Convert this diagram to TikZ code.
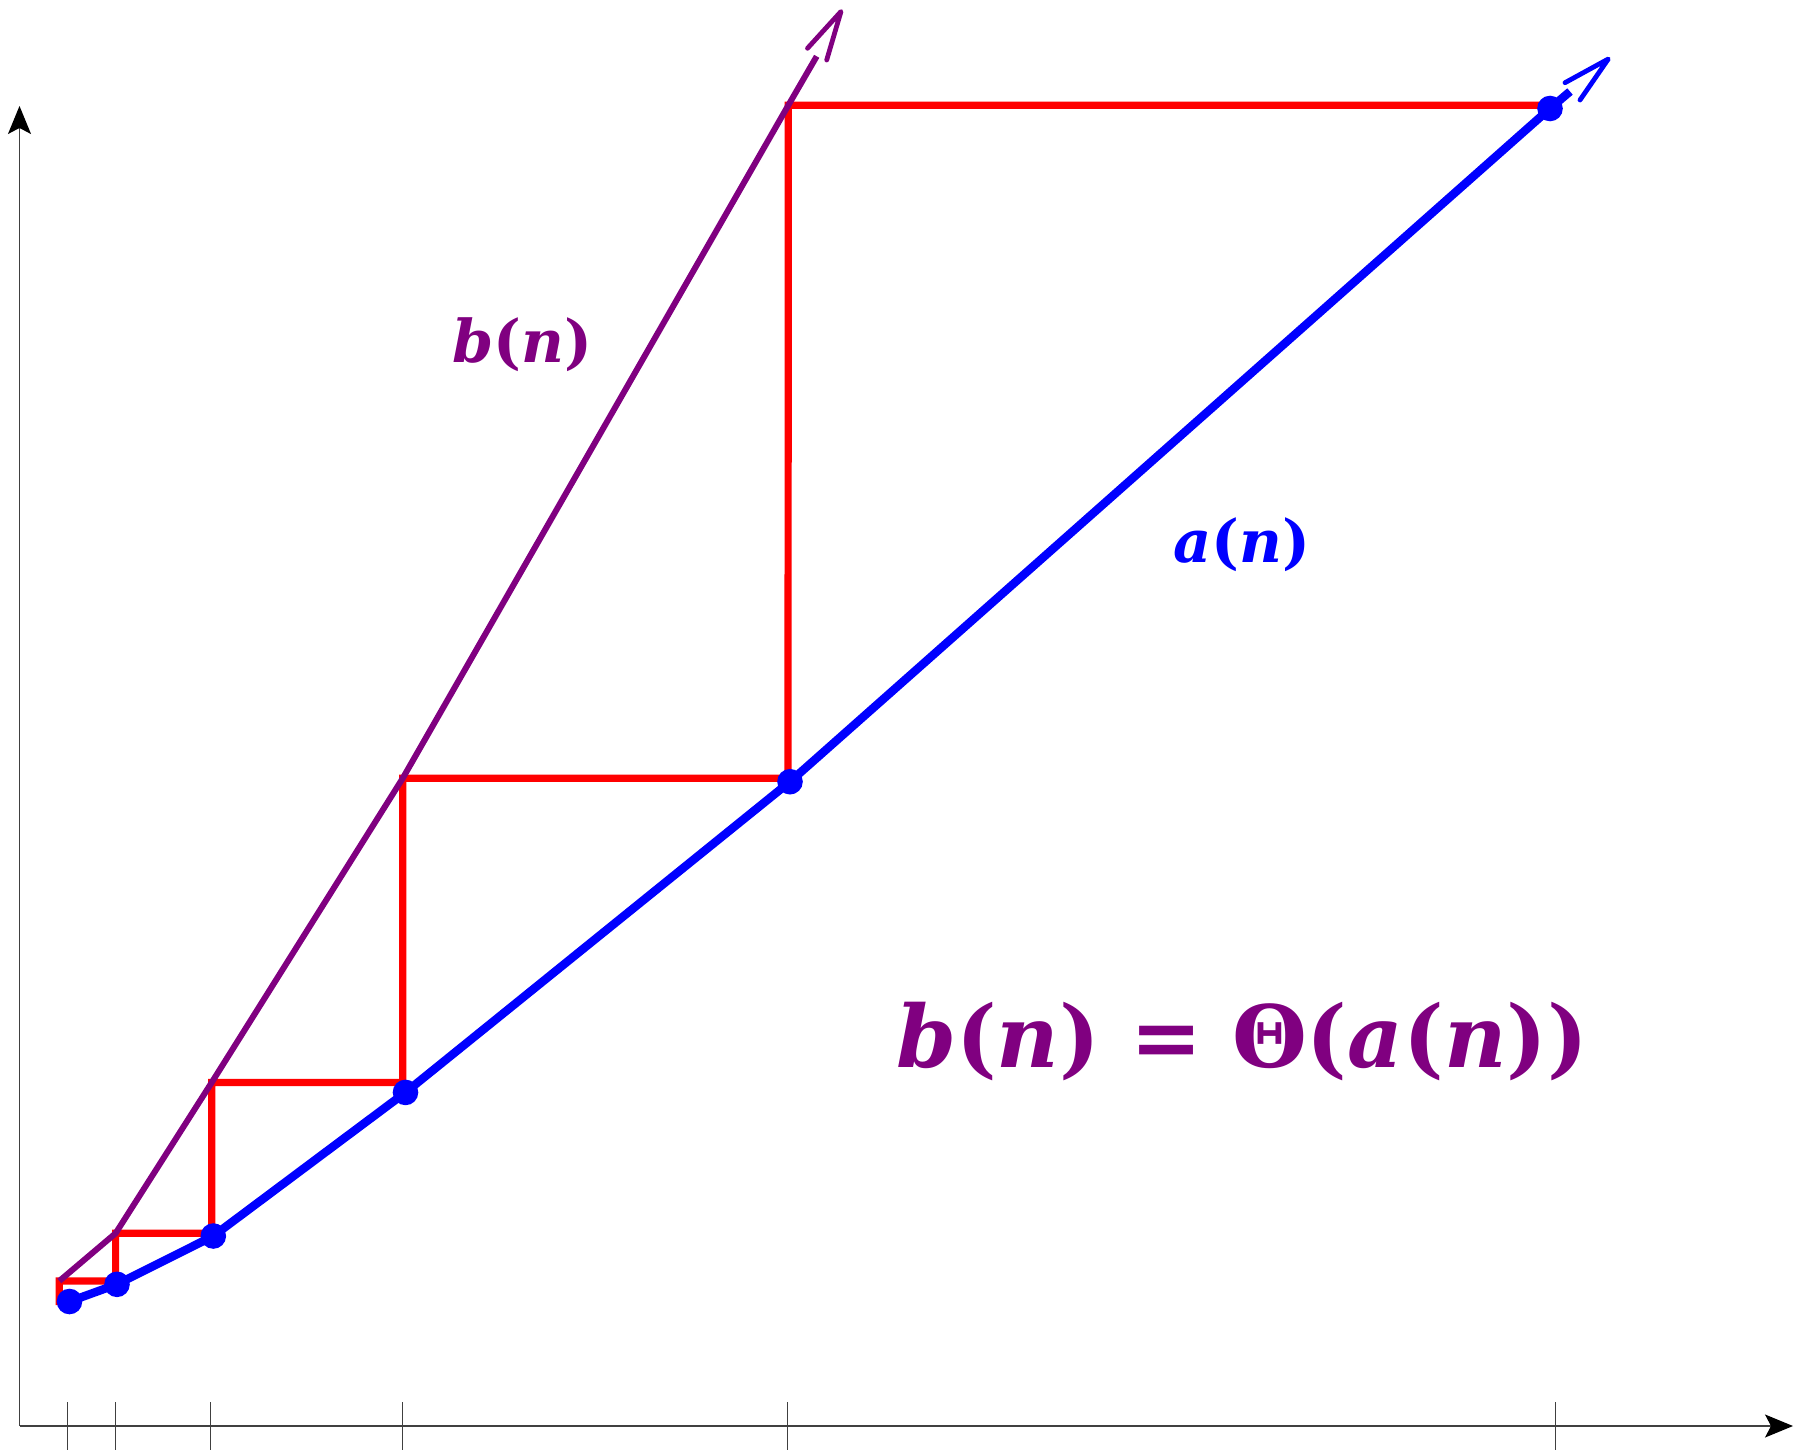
\documentclass[tikz,border=0pt]{standalone}
\usepackage{fontspec}
\setmainfont{DejaVu Serif}
\usetikzlibrary{arrows.meta}
\definecolor{pur}{RGB}{128,0,128}
\definecolor{blu}{RGB}{0,0,255}
\definecolor{rd}{RGB}{255,0,0}
\newcommand{\opn}{{\upshape(}}
\newcommand{\cpn}{{\upshape)}}
\begin{document}
\begin{tikzpicture}[x=0.5pt,y=-0.5pt,
  axis/.style={line width=0.65pt, black!75},
  tickmark/.style={line width=0.6pt, black!75},
  aline/.style={blu, line width=4.2pt, line join=round},
  bline/.style={pur, line width=3pt, line join=round},
  stair/.style={rd, line width=3.6pt, line join=miter},
  dot/.style={fill=blu},
  chev/.style={line width=2.4pt, line cap=round, line join=round},
  lab/.style={font=\fontsize{29.5}{35}\selectfont\bfseries\itshape, inner sep=0pt},
  big/.style={font=\fontsize{43}{50}\selectfont\bfseries\itshape, inner sep=0pt, pur}]
\useasboundingbox (0,0) rectangle (1794,1450);
% axes
\coordinate (O) at (19.5,1426);
\coordinate (ytip) at (19.5,106);
\coordinate (xtip) at (1793,1426);
\draw[axis, -{Stealth[black,length=14pt,width=11.5pt,inset=3pt]}] (O) -- (ytip);
\draw[axis, -{Stealth[black,length=14pt,width=11.5pt,inset=3pt]}] (O) -- (xtip);
% ticks
\foreach \t [count=\i] in {67.5,115.5,210.7,402.7,787.2,1555.5}{
  \coordinate (tt\i) at (\t,1402);
  \coordinate (tb\i) at (\t,1452);
  \draw[tickmark] (tt\i) -- (tb\i);
}
% b(n) points
\coordinate (b0) at (59.3,1281);
\coordinate (b1) at (115.6,1233.3);
\coordinate (b2) at (211.7,1082.5);
\coordinate (b3) at (402.7,778.3);
\coordinate (b4) at (788.3,105.3);
\coordinate (bend) at (816.7,56.3);
\coordinate (btip) at (841,11.5);
\coordinate (bw1) at (807.5,48.3);
\coordinate (bw2) at (826.7,60);
% a(n) points
\coordinate (a0) at (69.5,1301.5);
\coordinate (a1) at (117,1284.3);
\coordinate (a2) at (213.3,1236);
\coordinate (a3) at (405.5,1092.4);
\coordinate (a4) at (790,781.7);
\coordinate (a5) at (1550,108.5);
\coordinate (aend) at (1570,91.5);
\coordinate (atip) at (1608.3,59);
\coordinate (aw1) at (1565,82.7);
\coordinate (aw2) at (1580,100);
% staircase corners
\coordinate (s0) at (59.3,1305);
\coordinate (s1) at (115.6,1281);
\coordinate (s2) at (211.7,1233.3);
\coordinate (s3) at (402.7,1082.5);
\coordinate (s4) at (788,778.3);
\coordinate (s5) at (1550,105.3);
% red staircase
\draw[stair] (s0) -- (b0) -- (s1) -- (b1) -- (s2) -- (b2) -- (s3) -- (b3) -- (s4) -- (b4) -- (s5);
% b(n)
\draw[bline] (b0) -- (b1) -- (b2) -- (b3) -- (b4) -- (bend);
\draw[pur, chev] (bw1) -- (btip) -- (bw2);
% a(n)
\draw[aline] (a0) -- (a1) -- (a2) -- (a3) -- (a4) -- (a5) -- (aend);
\draw[blu, chev] (aw1) -- (atip) -- (aw2);
\foreach \p in {a0,a1,a2,a3,a4,a5}{
  \fill[dot] (\p) circle[radius=6.4pt];
}
% labels
\node[lab, pur] (lb) at (522,345) {b\opn n\cpn};
\node[lab, blu] (la) at (1242,545) {a\opn n\cpn};
\node[big] (eq) at (1242,1042) {b\opn n\cpn{} {\upshape=} {\upshape Θ(}a\opn n\cpn\cpn};
\end{tikzpicture}
\end{document}
